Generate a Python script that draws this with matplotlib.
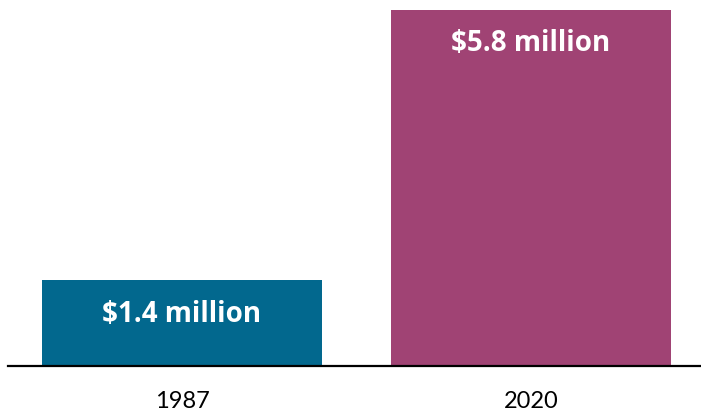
import matplotlib
matplotlib.use("Agg")
import matplotlib.pyplot as plt

years = ["1987", "2020"]
values = [1.4, 5.8]
labels = ["$1.4 million", "$5.8 million"]
colors = ["#02688E", "#A04374"]

fig = plt.figure(figsize=(7.01, 4.14), dpi=100)
ax = fig.add_axes([8 / 701, 47 / 414, 693 / 701, 356 / 414])

x = [0, 1]
ax.bar(x, values, width=0.802, color=colors)
ax.set_xlim(-0.4986, 1.4871)
ax.set_ylim(0, 5.8)

for xi, v, lab in zip(x, values, labels):
    ax.annotate(lab, (xi, v), xytext=(0, -33), textcoords="offset pixels",
                ha="center", va="center", color="white", fontsize=20,
                fontweight="bold", family="Open Sans")

ax.set_xticks(x)
ax.set_xticklabels(years, fontsize=17, family="Lato")
ax.tick_params(axis="x", length=0, pad=17)
ax.set_yticks([])
for s in ["top", "right", "left"]:
    ax.spines[s].set_visible(False)
ax.spines["bottom"].set_linewidth(1.6)
ax.spines["bottom"].set_color("black")

fig.savefig("out.png", dpi=100)
